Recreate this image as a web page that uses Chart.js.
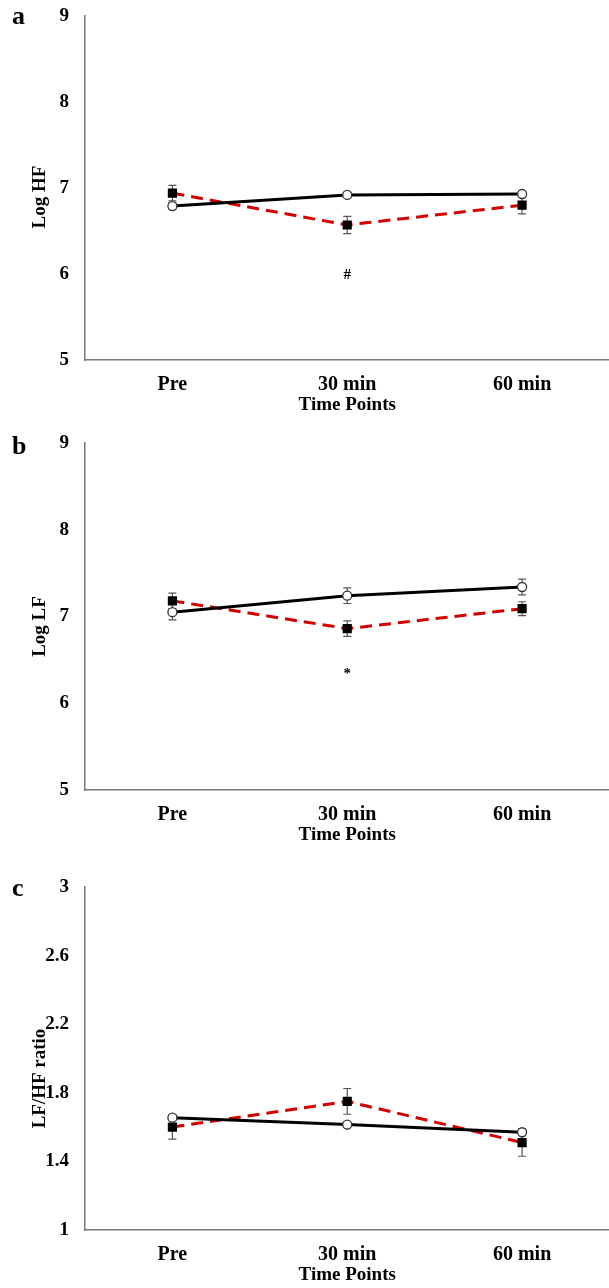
<!DOCTYPE html>
<html>
<head>
<meta charset="utf-8">
<script src="https://cdn.jsdelivr.net/npm/chart.js@4.4.1/dist/chart.umd.min.js"></script>
<style>
  html, body { margin: 0; padding: 0; background: #fff; overflow: hidden; }
  .panel { position: relative; width: 616px; }
</style>
</head>
<body>
<div class="panel" style="height:430px"><canvas id="chartA"></canvas></div>
<div class="panel" style="height:430px"><canvas id="chartB"></canvas></div>
<div class="panel" style="height:428px"><canvas id="chartC"></canvas></div>
<script>
// Time points on the x axis
const timePoints = ["Pre", "30 min", "60 min"];

// Panel a - Log HF
const hfControl = [6.79, 6.92, 6.93];
const hfControlErr = [0.04, 0.03, 0.03];
const hfTreat = [6.94, 6.57, 6.80];
const hfTreatErr = [0.09, 0.10, 0.10];
const hfTicks = [5, 6, 7, 8, 9];

// Panel b - Log LF
const lfControl = [7.05, 7.24, 7.34];
const lfControlErr = [0.09, 0.09, 0.09];
const lfTreat = [7.18, 6.86, 7.09];
const lfTreatErr = [0.09, 0.09, 0.08];
const lfTicks = [5, 6, 7, 8, 9];

// Panel c - LF/HF ratio
const ratioControl = [1.655, 1.615, 1.57];
const ratioControlErr = [0.015, 0.012, 0.015];
const ratioTreat = [1.60, 1.75, 1.51];
const ratioTreatErr = [0.07, 0.075, 0.08];
const ratioTicks = [1, 1.4, 1.8, 2.2, 2.6, 3];

const serif = "'Liberation Serif', 'DejaVu Serif', serif";

// draws error bars, panel letter, axis titles and significance marks
const extrasPlugin = {
  id: "extras",
  beforeDatasetsDraw(chart) {
    const ctx = chart.ctx;
    const xs = chart.scales.x, ys = chart.scales.y;
    ctx.save();
    ctx.strokeStyle = "#555";
    ctx.lineWidth = 1.2;
    chart.data.datasets.forEach(ds => {
      ds.data.forEach((v, i) => {
        const e = ds.errors[i];
        const x = xs.getPixelForValue(i);
        const y1 = ys.getPixelForValue(v + e);
        const y2 = ys.getPixelForValue(v - e);
        ctx.beginPath();
        ctx.moveTo(x, y1); ctx.lineTo(x, y2);
        ctx.moveTo(x - 4, y1); ctx.lineTo(x + 4, y1);
        ctx.moveTo(x - 4, y2); ctx.lineTo(x + 4, y2);
        ctx.stroke();
      });
    });
    ctx.restore();
  },
  afterDraw(chart) {
    const o = chart.options.plugins.extras;
    const ctx = chart.ctx;
    const xs = chart.scales.x, ys = chart.scales.y;
    const area = chart.chartArea;
    ctx.save();
    ctx.fillStyle = "#000";
    // panel letter
    ctx.font = "bold 26px " + serif;
    ctx.textAlign = "left";
    ctx.textBaseline = "alphabetic";
    ctx.fillText(o.letter, 12, o.letterY);
    // x title
    ctx.font = "bold 19px " + serif;
    ctx.textAlign = "center";
    ctx.textBaseline = "middle";
    ctx.fillText("Time Points", xs.getPixelForValue(1), area.bottom + 45);
    // y title
    ctx.save();
    ctx.translate(40, (area.top + area.bottom) / 2 + o.yTitleShift);
    ctx.rotate(-Math.PI / 2);
    ctx.font = "bold 19px " + serif;
    ctx.fillText(o.yTitle, 0, 0);
    ctx.restore();
    // significance mark
    if (o.mark) {
      ctx.font = "bold 15px " + serif;
      ctx.fillText(o.mark, xs.getPixelForValue(o.markIndex), ys.getPixelForValue(o.markValue));
    }
    ctx.restore();
  }
};

function makePanel(id, opts) {
  new Chart(document.getElementById(id).getContext("2d"), {
    type: "line",
    data: {
      labels: timePoints,
      datasets: [
        {
          label: "Control",
          data: opts.control,
          errors: opts.controlErr,
          borderColor: "#000",
          borderWidth: 3,
          pointStyle: "circle",
          pointRadius: 4.5,
          pointBackgroundColor: "#fff",
          pointBorderColor: "#333",
          pointBorderWidth: 1.3,
          tension: 0
        },
        {
          label: "Treatment",
          data: opts.treat,
          errors: opts.treatErr,
          borderColor: "#d40000",
          borderWidth: 3,
          borderDash: [12, 7],
          pointStyle: "rect",
          pointRadius: 6.5,
          pointBackgroundColor: "#000",
          pointBorderColor: "#000",
          pointBorderWidth: 0,
          tension: 0
        }
      ]
    },
    options: {
      responsive: true,
      maintainAspectRatio: false,
      animation: false,
      layout: { padding: { top: opts.top, left: 0, right: 0, bottom: 0 } },
      plugins: {
        legend: { display: false },
        tooltip: { enabled: false },
        extras: opts.extras
      },
      scales: {
        x: {
          offset: true,
          grid: { display: false, drawTicks: false },
          border: { color: "#777", width: 1.5 },
          ticks: { color: "#000", padding: 13, font: { family: serif, size: 20, weight: "bold" } },
          afterFit: s => { s.height = opts.xHeight; s.paddingLeft = 0; s.paddingRight = 0; }
        },
        y: {
          min: opts.ticks[0],
          max: opts.ticks[opts.ticks.length - 1],
          grid: { display: false, drawTicks: false },
          border: { color: "#777", width: 1.5 },
          ticks: {
            color: "#000", padding: 16,
            font: { family: serif, size: 19, weight: "bold" },
            callback: v => String(v)
          },
          afterBuildTicks: s => { s.ticks = opts.ticks.map(v => ({ value: v })); },
          afterFit: s => { s.width = 85; s.paddingTop = 0; s.paddingBottom = 0; }
        }
      }
    },
    plugins: [extrasPlugin]
  });
}

makePanel("chartA", {
  control: hfControl, controlErr: hfControlErr,
  treat: hfTreat, treatErr: hfTreatErr,
  ticks: hfTicks, top: 16, xHeight: 70,
  extras: { letter: "a", letterY: 24, yTitle: "Log HF", yTitleShift: 9, mark: "#", markIndex: 1, markValue: 5.99 }
});

makePanel("chartB", {
  control: lfControl, controlErr: lfControlErr,
  treat: lfTreat, treatErr: lfTreatErr,
  ticks: lfTicks, top: 13, xHeight: 70,
  extras: { letter: "b", letterY: 24, yTitle: "Log LF", yTitleShift: 10, mark: "*", markIndex: 1, markValue: 6.33 }
});

makePanel("chartC", {
  control: ratioControl, controlErr: ratioControlErr,
  treat: ratioTreat, treatErr: ratioTreatErr,
  ticks: ratioTicks, top: 27, xHeight: 58,
  extras: { letter: "c", letterY: 36, yTitle: "LF/HF ratio", yTitleShift: 20, mark: null }
});
</script>
</body>
</html>
